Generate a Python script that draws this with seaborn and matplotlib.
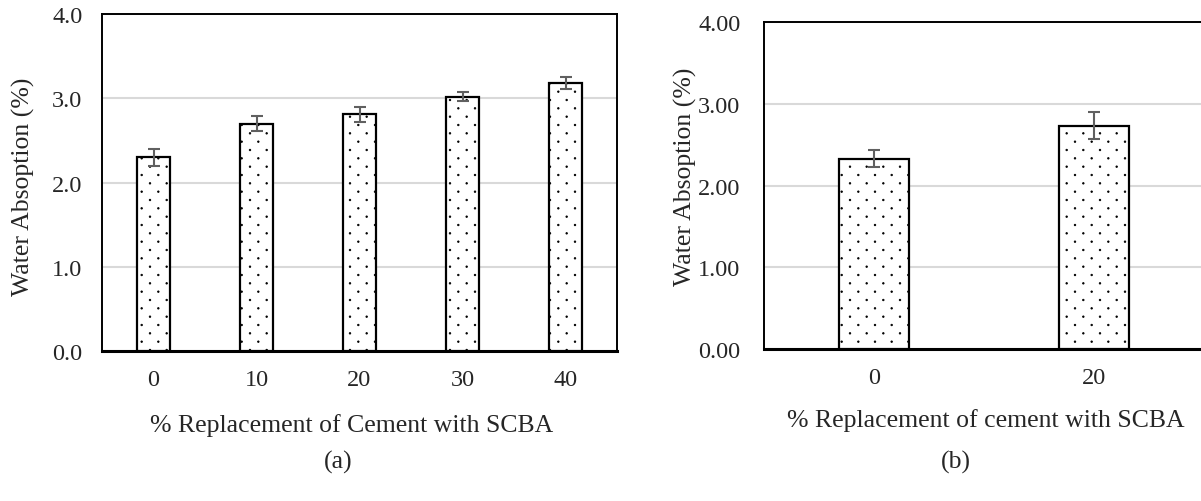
import matplotlib
matplotlib.use("Agg")
import numpy as np
import matplotlib.pyplot as plt
from matplotlib import hatch as mhatch
from matplotlib.path import Path
import seaborn as sns
import pandas as pd

# ---- data ----
cats_a = ["0", "10", "20", "30", "40"]
vals_a = [2.30, 2.70, 2.81, 3.02, 3.18]
err_a = [0.10, 0.09, 0.09, 0.05, 0.07]

cats_b = ["0", "20"]
vals_b = [2.33, 2.73]
err_b = [0.10, 0.167]

yticks_a = [0.0, 1.0, 2.0, 3.0, 4.0]
yticks_b = [0.0, 1.0, 2.0, 3.0, 4.0]


# ---- sparse staggered dot texture (Excel-like "dotted" fill) ----
class SparseDots(mhatch.HatchPatternBase):
    nx, ny, r = 6, 12, 0.0075

    def __init__(self, hatch, density):
        circ = Path.unit_circle()
        self.sv, self.sc = circ.vertices, circ.codes
        if hatch.count('.') > 0:
            n = (self.ny // 2 + 1) * (self.nx + 1) + (self.ny // 2) * self.nx
            self.num_vertices = n * len(self.sv)
        else:
            self.num_vertices = 0

    def set_vertices_and_codes(self, vertices, codes):
        vp, cp = [], []
        sv = self.sv * self.r
        for row in range(self.ny + 1):
            y = row / self.ny
            if row % 2 == 0:
                cols = np.linspace(0, 1, self.nx + 1)
            else:
                cols = np.linspace(0.5 / self.nx, 1 - 0.5 / self.nx, self.nx)
            for x in cols:
                vp.append(sv + [x, y])
                cp.append(self.sc)
        np.concatenate(vp, out=vertices)
        np.concatenate(cp, out=codes)


mhatch._hatch_types = [SparseDots if t is mhatch.SmallFilledCircles else t
                       for t in mhatch._hatch_types]

sns.set_theme(style="white")
plt.rcParams['font.family'] = ['Liberation Serif', 'DejaVu Serif']
plt.rcParams['hatch.linewidth'] = 0.6
plt.rcParams['hatch.color'] = 'black'

W, H = 1201, 502
fig = plt.figure(figsize=(W / 100, H / 100), dpi=100)


def rect(l, t, r, b):
    return [l / W, 1 - b / H, (r - l) / W, (b - t) / H]


ax_a = fig.add_axes(rect(102, 15, 617, 352))
ax_b = fig.add_axes(rect(764, 23, 1204, 350))

FS = 17.5
FL = 18.5


def draw(ax, cats, vals, errs, yticks, fmt, width, ypad):
    df = pd.DataFrame({"x": cats, "y": vals})
    sns.barplot(data=df, x="x", y="y", ax=ax, color="white", edgecolor="black",
                linewidth=1.6, width=width, hatch=".", errorbar=None, zorder=3)
    ax.errorbar(range(len(cats)), vals, yerr=errs, fmt="none", ecolor="#606060",
                elinewidth=1.5, capsize=4.2, capthick=1.5, zorder=4)
    ax.set_ylim(0, 4.0)
    ax.set_xlim(-0.5, len(cats) - 0.5)
    ax.set_yticks(yticks)
    ax.set_yticklabels([fmt.format(v) for v in yticks], fontsize=FS)
    ax.tick_params(axis="x", labelsize=FS, length=0, pad=13)
    ax.tick_params(axis="y", length=0, pad=ypad)
    ax.yaxis.grid(True, color="#d9d9d9", linewidth=1.5, zorder=0)
    ax.set_axisbelow(True)
    for s in ax.spines.values():
        s.set_visible(True)
        s.set_color("black")
        s.set_linewidth(1.4)
    ax.spines["bottom"].set_linewidth(2.2)
    ax.set_ylabel("Water Absoption (%)", fontsize=FL)


draw(ax_a, cats_a, vals_a, err_a, yticks_a, "{:.1f}", 0.32, 14)
draw(ax_b, cats_b, vals_b, err_b, yticks_b, "{:.2f}", 0.317, 17)

ax_a.set_xlabel("% Replacement of Cement with SCBA", fontsize=FL)
ax_b.set_xlabel("% Replacement of cement with SCBA", fontsize=FL)
ax_a.xaxis.set_label_coords(0.485, -0.183)
ax_b.xaxis.set_label_coords(0.505, -0.18)
ax_a.yaxis.set_label_coords(-0.13, 0.49)
ax_b.yaxis.set_label_coords(-0.153, 0.53)

fig.text(338 / W, 1 - 462 / H, "(a)", fontsize=FL, ha="center", va="center")
fig.text(956 / W, 1 - 462 / H, "(b)", fontsize=FL, ha="center", va="center")

fig.savefig("out.png", dpi=100)
